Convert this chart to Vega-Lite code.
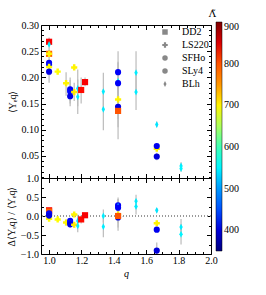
{
  "$schema": "https://vega.github.io/schema/vega-lite/v6.json",
  "padding": {"left": 5, "top": 9, "right": 5, "bottom": 5},
  "spacing": 0,
  "bounds": "flush",
  "config": {
    "font": "Liberation Serif",
    "view": {"stroke": "black", "strokeWidth": 1},
    "axis": {"grid": false, "domain": false, "tickColor": "black", "tickSize": -4.5, "labelPadding": 8, "labelOverlap": false, "labelFlush": false, "labelFont": "Liberation Serif", "labelFontSize": 10, "labelColor": "black", "titleFont": "Liberation Serif", "titleFontSize": 10, "titleFontWeight": "normal", "titleColor": "black"},
    "legend": {"labelFont": "Liberation Serif", "labelFontSize": 10, "labelColor": "black", "titleFont": "Liberation Serif", "titleFontWeight": "normal", "titleColor": "black"}
  },
  "data": {"values": [
    {"q": 1.0, "eos": "DD2", "L": 835, "Y": 0.268, "Ylo": 0.262, "Yhi": 0.274, "d": 0.15, "dlo": 0.09, "dhi": 0.21},
    {"q": 1.0, "eos": "BLh", "L": 545, "Y": 0.263, "Ylo": 0.25, "Yhi": 0.276, "d": 0.10, "dlo": 0.03, "dhi": 0.17},
    {"q": 1.0, "eos": "DD2", "L": 790, "Y": 0.245, "Ylo": 0.24, "Yhi": 0.25, "d": 0.12, "dlo": 0.08, "dhi": 0.16},
    {"q": 1.0, "eos": "LS220", "L": 700, "Y": 0.245, "Ylo": 0.238, "Yhi": 0.252, "d": 0.0, "dlo": -0.05, "dhi": 0.05},
    {"q": 1.0, "eos": "SFHo", "L": 415, "Y": 0.228, "Ylo": 0.222, "Yhi": 0.234, "d": 0.07, "dlo": 0.02, "dhi": 0.12},
    {"q": 1.0, "eos": "SLy4", "L": 420, "Y": 0.224, "Ylo": 0.218, "Yhi": 0.23, "d": 0.04, "dlo": -0.01, "dhi": 0.09},
    {"q": 1.0, "eos": "LS220", "L": 695, "Y": 0.220, "Ylo": 0.19, "Yhi": 0.245, "d": -0.07, "dlo": -0.12, "dhi": -0.02},
    {"q": 1.0, "eos": "SFHo", "L": 405, "Y": 0.211, "Ylo": 0.205, "Yhi": 0.217, "d": 0.01, "dlo": -0.04, "dhi": 0.06},
    {"q": 1.053, "eos": "LS220", "L": 695, "Y": 0.211, "Ylo": 0.206, "Yhi": 0.216, "d": -0.09, "dlo": -0.12, "dhi": -0.06},
    {"q": 1.105, "eos": "LS220", "L": 700, "Y": 0.189, "Ylo": 0.165, "Yhi": 0.21, "d": -0.17, "dlo": -0.25, "dhi": -0.09},
    {"q": 1.13, "eos": "SFHo", "L": 415, "Y": 0.177, "Ylo": 0.155, "Yhi": 0.2, "d": -0.13, "dlo": -0.2, "dhi": -0.06},
    {"q": 1.13, "eos": "SLy4", "L": 420, "Y": 0.173, "Ylo": 0.15, "Yhi": 0.195, "d": -0.17, "dlo": -0.24, "dhi": -0.1},
    {"q": 1.13, "eos": "SFHo", "L": 405, "Y": 0.164, "Ylo": 0.145, "Yhi": 0.185, "d": -0.22, "dlo": -0.3, "dhi": -0.14},
    {"q": 1.155, "eos": "LS220", "L": 700, "Y": 0.219, "Ylo": 0.214, "Yhi": 0.224, "d": 0.04, "dlo": 0.0, "dhi": 0.08},
    {"q": 1.155, "eos": "LS220", "L": 705, "Y": 0.172, "Ylo": 0.155, "Yhi": 0.19, "d": -0.23, "dlo": -0.3, "dhi": -0.16},
    {"q": 1.177, "eos": "BLh", "L": 540, "Y": 0.179, "Ylo": 0.145, "Yhi": 0.215, "d": -0.13, "dlo": -0.3, "dhi": 0.04},
    {"q": 1.177, "eos": "BLh", "L": 545, "Y": 0.163, "Ylo": 0.13, "Yhi": 0.196, "d": -0.26, "dlo": -0.43, "dhi": -0.09},
    {"q": 1.198, "eos": "DD2", "L": 830, "Y": 0.176, "Ylo": 0.15, "Yhi": 0.2, "d": -0.09, "dlo": -0.2, "dhi": 0.02},
    {"q": 1.222, "eos": "DD2", "L": 835, "Y": 0.191, "Ylo": 0.183, "Yhi": 0.2, "d": 0.02, "dlo": -0.02, "dhi": 0.06},
    {"q": 1.335, "eos": "BLh", "L": 545, "Y": 0.173, "Ylo": 0.137, "Yhi": 0.209, "d": 0.0, "dlo": -0.17, "dhi": 0.17},
    {"q": 1.335, "eos": "BLh", "L": 545, "Y": 0.139, "Ylo": 0.099, "Yhi": 0.178, "d": -0.28, "dlo": -0.56, "dhi": 0.0},
    {"q": 1.426, "eos": "SFHo", "L": 415, "Y": 0.210, "Ylo": 0.17, "Yhi": 0.25, "d": 0.28, "dlo": 0.07, "dhi": 0.49},
    {"q": 1.426, "eos": "BLh", "L": 540, "Y": 0.193, "Ylo": 0.155, "Yhi": 0.23, "d": 0.25, "dlo": 0.05, "dhi": 0.45},
    {"q": 1.426, "eos": "SLy4", "L": 415, "Y": 0.189, "Ylo": 0.15, "Yhi": 0.228, "d": 0.22, "dlo": 0.0, "dhi": 0.44},
    {"q": 1.426, "eos": "LS220", "L": 700, "Y": 0.158, "Ylo": 0.12, "Yhi": 0.196, "d": 0.04, "dlo": -0.18, "dhi": 0.26},
    {"q": 1.426, "eos": "SFHo", "L": 405, "Y": 0.144, "Ylo": 0.105, "Yhi": 0.185, "d": -0.04, "dlo": -0.39, "dhi": 0.2},
    {"q": 1.426, "eos": "DD2", "L": 800, "Y": 0.136, "Ylo": 0.082, "Yhi": 0.19, "d": 0.0, "dlo": -0.3, "dhi": 0.3},
    {"q": 1.537, "eos": "BLh", "L": 545, "Y": 0.209, "Ylo": 0.17, "Yhi": 0.25, "d": 0.39, "dlo": 0.2, "dhi": 0.56},
    {"q": 1.537, "eos": "BLh", "L": 545, "Y": 0.172, "Ylo": 0.138, "Yhi": 0.21, "d": 0.25, "dlo": 0.04, "dhi": 0.44},
    {"q": 1.665, "eos": "BLh", "L": 540, "Y": 0.110, "Ylo": 0.105, "Yhi": 0.116, "d": 0.15, "dlo": 0.09, "dhi": 0.21},
    {"q": 1.665, "eos": "LS220", "L": 700, "Y": 0.064, "Ylo": 0.06, "Yhi": 0.068, "d": -0.19, "dlo": -0.23, "dhi": -0.15},
    {"q": 1.665, "eos": "SFHo", "L": 410, "Y": 0.069, "Ylo": 0.064, "Yhi": 0.074, "d": -0.36, "dlo": -0.42, "dhi": -0.3},
    {"q": 1.665, "eos": "SLy4", "L": 400, "Y": 0.049, "Ylo": 0.042, "Yhi": 0.056, "d": -0.91, "dlo": -1.1, "dhi": -0.7},
    {"q": 1.815, "eos": "BLh", "L": 545, "Y": 0.031, "Ylo": 0.023, "Yhi": 0.038, "d": -0.29, "dlo": -0.5, "dhi": -0.08},
    {"q": 1.815, "eos": "BLh", "L": 550, "Y": 0.026, "Ylo": 0.02, "Yhi": 0.034, "d": -0.48, "dlo": -0.75, "dhi": -0.22}
  ]},
  "resolve": {"legend": {"shape": "independent", "color": "shared"}, "scale": {"color": "shared", "shape": "shared"}},
  "vconcat": [
    {
      "width": 170, "height": 153,
      "resolve": {"axis": {"x": "independent", "y": "independent"}},
      "layer": [
        {
          "mark": {"type": "rule", "color": "#bbbbbb", "strokeWidth": 1.2},
          "encoding": {
            "x": {"field": "q", "type": "quantitative", "scale": {"domain": [0.95, 2.0], "nice": false, "zero": false}, "axis": {"orient": "bottom", "values": [1.0, 1.2, 1.4, 1.6, 1.8, 2.0], "labels": false, "title": null}},
            "y": {"field": "Ylo", "type": "quantitative", "scale": {"domain": [0.008, 0.3], "nice": false, "zero": false}, "axis": {"orient": "left", "values": [0.05, 0.1, 0.15, 0.2, 0.25, 0.3], "format": ".2f", "labelPadding": 7, "title": "⟨Yₑq⟩", "titlePadding": 4}},
            "y2": {"field": "Yhi"}
          }
        },
        {
          "mark": {"type": "point", "filled": true, "opacity": 1, "size": 38, "strokeWidth": 0},
          "encoding": {
            "x": {"field": "q", "type": "quantitative", "axis": null},
            "y": {"field": "Y", "type": "quantitative", "axis": null},
            "color": {"field": "L", "type": "quantitative", "scale": {"domain": [350, 900], "range": ["#00007f", "#0000ff", "#007fff", "#00ffff", "#7fff7f", "#ffff00", "#ff7f00", "#ff0000", "#7f0000"]},
              "legend": {"title": "Λ̃", "orient": "none", "legendX": 168, "legendY": -16, "direction": "vertical", "gradientLength": 229, "gradientThickness": 6, "gradientStrokeColor": "black", "gradientStrokeWidth": 0.5, "values": [400, 500, 600, 700, 800, 900], "labelOverlap": false, "titleFont": "DejaVu Serif", "titleFontSize": 10, "titlePadding": 3, "titleOrient": "top", "titleAnchor": "start", "titleAlign": "right"}},
            "shape": {"field": "eos", "type": "nominal", "scale": {"domain": ["DD2", "LS220", "SFHo", "SLy4", "BLh"], "range": ["square", "cross", "circle", "circle", "M0,-1.1L0.55,0L0,1.1L-0.55,0Z"]},
              "legend": {"title": null, "orient": "top-right", "offset": 2, "padding": 0, "symbolFillColor": "#888888", "symbolStrokeColor": "#888888", "symbolStrokeWidth": 0, "symbolSize": 30, "labelOffset": 12, "rowPadding": 3, "labelFontSize": 10}}
          }
        },
        {
          "mark": {"type": "point", "opacity": 0},
          "encoding": {
            "x": {"field": "q", "type": "quantitative", "axis": {"orient": "top", "values": [1.0, 1.2, 1.4, 1.6, 1.8, 2.0], "labels": false, "title": null}},
            "y": {"field": "Y", "type": "quantitative", "axis": {"orient": "right", "values": [0.05, 0.1, 0.15, 0.2, 0.25, 0.3], "labels": false, "title": null}}
          }
        },
        {
          "mark": {"type": "point", "opacity": 0},
          "encoding": {
            "x": {"field": "q", "type": "quantitative", "axis": {"orient": "bottom", "values": [1.05, 1.1, 1.15, 1.25, 1.3, 1.35, 1.45, 1.5, 1.55, 1.65, 1.7, 1.75, 1.85, 1.9, 1.95], "tickSize": -2.5, "labels": false, "title": null}},
            "y": {"field": "Y", "type": "quantitative", "axis": {"orient": "left", "values": [0.01, 0.02, 0.03, 0.04, 0.06, 0.07, 0.08, 0.09, 0.11, 0.12, 0.13, 0.14, 0.16, 0.17, 0.18, 0.19, 0.21, 0.22, 0.23, 0.24, 0.26, 0.27, 0.28, 0.29], "tickSize": -2.5, "labels": false, "title": null}}
          }
        },
        {
          "mark": {"type": "point", "opacity": 0},
          "encoding": {
            "x": {"field": "q", "type": "quantitative", "axis": {"orient": "top", "values": [1.05, 1.1, 1.15, 1.25, 1.3, 1.35, 1.45, 1.5, 1.55, 1.65, 1.7, 1.75, 1.85, 1.9, 1.95], "tickSize": -2.5, "labels": false, "title": null}},
            "y": {"field": "Y", "type": "quantitative", "axis": {"orient": "right", "values": [0.01, 0.02, 0.03, 0.04, 0.06, 0.07, 0.08, 0.09, 0.11, 0.12, 0.13, 0.14, 0.16, 0.17, 0.18, 0.19, 0.21, 0.22, 0.23, 0.24, 0.26, 0.27, 0.28, 0.29], "tickSize": -2.5, "labels": false, "title": null}}
          }
        }
      ]
    },
    {
      "width": 170, "height": 76,
      "resolve": {"axis": {"x": "independent", "y": "independent"}},
      "layer": [
        {
          "mark": {"type": "rule", "color": "#bbbbbb", "strokeWidth": 1.2, "clip": true},
          "encoding": {
            "x": {"field": "q", "type": "quantitative", "scale": {"domain": [0.95, 2.0], "nice": false, "zero": false}, "axis": {"orient": "bottom", "values": [1.0, 1.2, 1.4, 1.6, 1.8, 2.0], "format": ".1f", "labelPadding": 6, "title": "q", "titleFontStyle": "italic", "titlePadding": 3}},
            "y": {"field": "dlo", "type": "quantitative", "scale": {"domain": [-1, 1], "nice": false}, "axis": {"orient": "left", "values": [-1, -0.5, 0, 0.5, 1], "format": ".1f", "labelPadding": 7, "title": "Δ⟨Yₑq⟩ / ⟨Yₑq⟩", "titlePadding": 4}},
            "y2": {"field": "dhi"}
          }
        },
        {
          "mark": {"type": "rule", "color": "#999999", "strokeDash": [1, 2], "strokeWidth": 1},
          "encoding": {"y": {"datum": 0, "type": "quantitative", "axis": null}}
        },
        {
          "mark": {"type": "point", "filled": true, "opacity": 1, "size": 38, "strokeWidth": 0, "clip": true},
          "encoding": {
            "x": {"field": "q", "type": "quantitative", "axis": null},
            "y": {"field": "d", "type": "quantitative", "axis": null},
            "color": {"field": "L", "type": "quantitative"},
            "shape": {"field": "eos", "type": "nominal", "legend": null}
          }
        },
        {
          "mark": {"type": "point", "opacity": 0},
          "encoding": {
            "x": {"field": "q", "type": "quantitative", "axis": {"orient": "top", "values": [1.0, 1.2, 1.4, 1.6, 1.8, 2.0], "labels": false, "title": null}},
            "y": {"field": "d", "type": "quantitative", "axis": {"orient": "right", "values": [-1, -0.5, 0, 0.5, 1], "labels": false, "title": null}}
          }
        },
        {
          "mark": {"type": "point", "opacity": 0},
          "encoding": {
            "x": {"field": "q", "type": "quantitative", "axis": {"orient": "bottom", "values": [1.05, 1.1, 1.15, 1.25, 1.3, 1.35, 1.45, 1.5, 1.55, 1.65, 1.7, 1.75, 1.85, 1.9, 1.95], "tickSize": -2.5, "labels": false, "title": null}},
            "y": {"field": "d", "type": "quantitative", "axis": {"orient": "left", "values": [-0.75, -0.25, 0.25, 0.75], "tickSize": -2.5, "labels": false, "title": null}}
          }
        },
        {
          "mark": {"type": "point", "opacity": 0},
          "encoding": {
            "x": {"field": "q", "type": "quantitative", "axis": {"orient": "top", "values": [1.05, 1.1, 1.15, 1.25, 1.3, 1.35, 1.45, 1.5, 1.55, 1.65, 1.7, 1.75, 1.85, 1.9, 1.95], "tickSize": -2.5, "labels": false, "title": null}},
            "y": {"field": "d", "type": "quantitative", "axis": {"orient": "right", "values": [-0.75, -0.25, 0.25, 0.75], "tickSize": -2.5, "labels": false, "title": null}}
          }
        }
      ]
    }
  ]
}
